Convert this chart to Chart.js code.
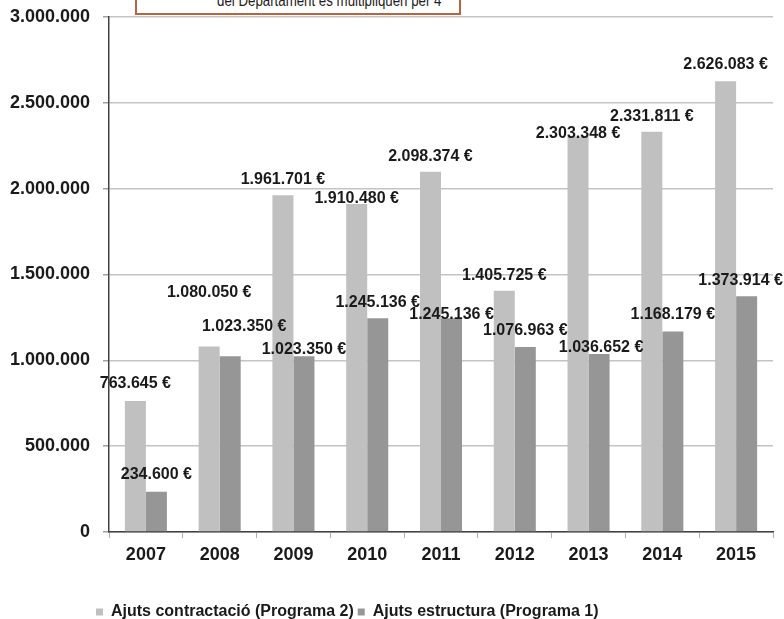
<!DOCTYPE html>
<html><head><meta charset="utf-8">
<script src="https://cdn.jsdelivr.net/npm/chart.js@4"></script>
<style>
html,body{margin:0;padding:0;background:#fff;}
#wrap{position:relative;width:784px;height:619px;overflow:hidden;background:#fff;}
#c{position:absolute;left:0;top:0;}
#note{position:absolute;left:135px;top:-40px;width:326px;height:55px;box-sizing:border-box;border:2px solid #b9643f;background:#fff;font-family:'Liberation Sans',Arial,sans-serif;font-size:16px;color:#222;}
#note span{position:absolute;left:80px;top:31px;line-height:16px;white-space:nowrap;transform:scaleX(0.83);transform-origin:0 0;}
</style></head><body>
<div id="wrap"><canvas id="c" width="784" height="619"></canvas><div id="note"><span>del Departament es multipliquen per 4</span></div></div>
<script>
const years = ['2007','2008','2009','2010','2011','2012','2013','2014','2015'];
const contractacio = [763645, 1080050, 1961701, 1910480, 2098374, 1405725, 2303348, 2331811, 2626083];
const estructura = [234600, 1023350, 1023350, 1245136, 1245136, 1076963, 1036652, 1168179, 1373914];
const seriesNames = ['Ajuts contractació (Programa 2)', 'Ajuts estructura (Programa 1)'];
const yMin = 0, yMax = 3000000, yStep = 500000;

// value-label nudges (pixels, relative to bar top)
const labelShiftY = [
  [-17, -54, -16, -5, -15, -15, -3, -15, -17],
  [-17, -30, -7, -16, -4, -17, -6, -17, -16]
];
const labelShiftX = [
  [0, 0, 0, 0, 0, 0, 0, 0, 0],
  [0, 14, 0, 0, 0, 0, 2, 0, -6]
];

const FONT = "'Liberation Sans', Arial, Helvetica, sans-serif";
Chart.defaults.font.family = FONT;
Chart.defaults.color = '#1a1a1a';

const fmt = n => String(n).replace(/\B(?=(\d{3})+(?!\d))/g, '.');

const valueLabels = {
  id: 'valueLabels',
  afterDatasetsDraw(chart) {
    const ctx = chart.ctx;
    ctx.save();
    ctx.font = "bold 16px " + FONT;
    ctx.fillStyle = '#1a1a1a';
    ctx.textAlign = 'center';
    ctx.textBaseline = 'middle';
    chart.data.datasets.forEach((ds, di) => {
      const meta = chart.getDatasetMeta(di);
      meta.data.forEach((bar, i) => {
        ctx.fillText(fmt(ds.data[i]) + ' €', bar.x + labelShiftX[di][i], bar.y + labelShiftY[di][i]);
      });
    });
    ctx.restore();
  }
};

const legendPlace = {
  id: 'legendPlace',
  afterLayout(chart) {
    const lg = chart.legend;
    if (!lg) return;
    lg.left += 92; lg.right += 92;
    lg.top += 11; lg.bottom += 11;
  }
};

new Chart(document.getElementById('c'), {
  type: 'bar',
  data: {
    labels: years,
    datasets: [
      { label: seriesNames[0], data: contractacio, backgroundColor: '#c0c0c0', borderWidth: 0 },
      { label: seriesNames[1], data: estructura, backgroundColor: '#969696', borderWidth: 0 }
    ]
  },
  options: {
    responsive: false,
    animation: false,
    datasets: { bar: { categoryPercentage: 0.57, barPercentage: 1.0 } },
    layout: { padding: { left: 0, right: 11, top: 17, bottom: 0 } },
    plugins: {
      legend: {
        position: 'bottom', align: 'start',
        labels: { boxWidth: 7, boxHeight: 7, padding: 4, color: '#1a1a1a', font: { size: 16, weight: 'bold' } }
      },
      tooltip: { enabled: false },
      title: { display: false }
    },
    scales: {
      x: {
        grid: { display: true, drawOnChartArea: false, tickLength: 6, color: '#b0b0b0', offset: true },
        border: { color: '#404040', width: 1.5 },
        ticks: { font: { size: 18, weight: 'bold' }, color: '#1a1a1a', padding: 6, maxRotation: 0 },
        afterFit(s) { s.height = 57; }
      },
      y: {
        min: yMin, max: yMax,
        ticks: { stepSize: yStep, callback: v => fmt(v), font: { size: 18, weight: 'bold' }, color: '#1a1a1a', padding: 13 },
        grid: { color: '#c4c4c4', lineWidth: 1.5, tickLength: 6, tickColor: '#a0a0a0' },
        border: { color: '#404040', width: 1.5 },
        afterFit(s) { s.width = 109; s.paddingTop = 0; s.paddingBottom = 0; }
      }
    }
  },
  plugins: [valueLabels, legendPlace]
});
</script>
</body></html>
